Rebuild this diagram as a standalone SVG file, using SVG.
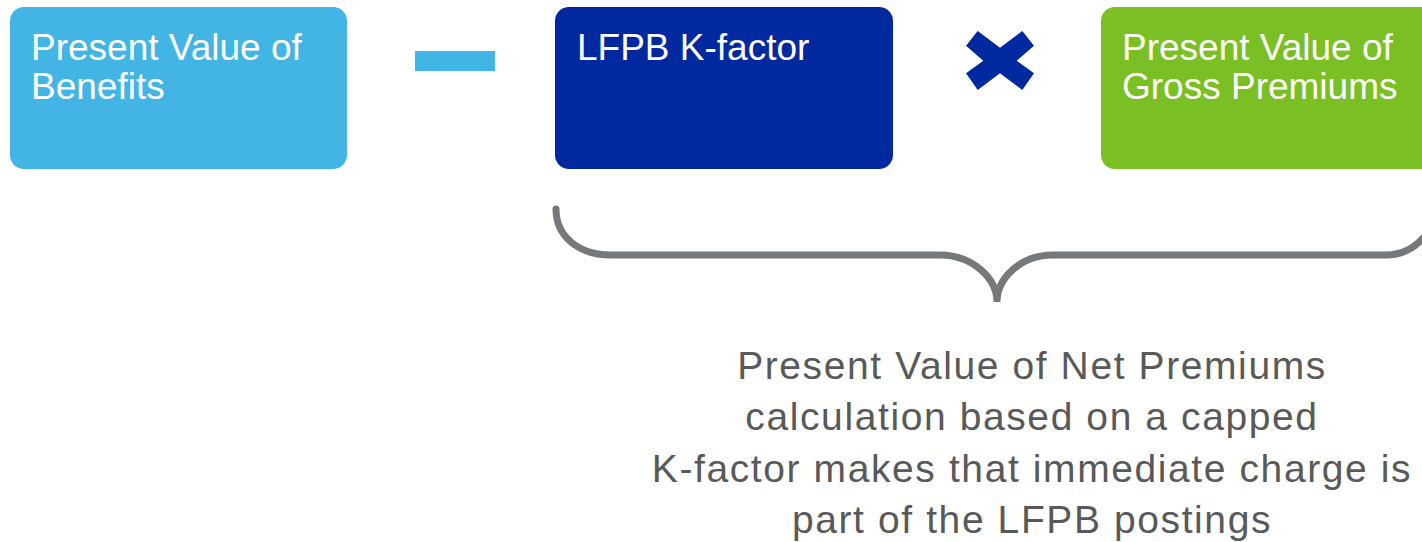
<svg xmlns="http://www.w3.org/2000/svg" width="1422" height="542" viewBox="0 0 1422 542">
<style>
.box-text{font-family:"Liberation Sans",Arial,sans-serif;font-size:37px;fill:#ffffff}
.note{font-family:"Liberation Sans",Arial,sans-serif;font-size:39px;fill:#595959;letter-spacing:1.6px;text-anchor:middle}
</style>
<rect width="1422" height="542" fill="#ffffff"/>
<g id="node-pv-benefits">
<rect x="10" y="7" width="337" height="162" rx="14" fill="#43B5E5"/>
<text class="box-text" x="31" y="60">Present Value of</text>
<text class="box-text" x="31" y="99">Benefits</text>
</g>
<g id="op-minus">
<rect x="415" y="51" width="80" height="20" fill="#43B5E5"/>
</g>
<g id="node-kfactor">
<rect x="555" y="7" width="338" height="162" rx="14" fill="#0029A0"/>
<text class="box-text" x="577" y="60">LFPB K-factor</text>
</g>
<g id="op-times">
<polygon points="977.7,31 1000,47.7 1022.3,31 1034,45.7 1016.7,60.7 1034,73.3 1022.3,90 1000,73.3 977.7,90 966,73.3 983.3,60.7 966,45.7" fill="#0029A0"/>
</g>
<g id="node-pv-gross">
<rect x="1101" y="7" width="345" height="162" rx="14" fill="#7ABF23"/>
<text class="box-text" x="1122" y="60">Present Value of</text>
<text class="box-text" x="1122" y="99">Gross Premiums</text>
</g>
<g id="connectors">
<path d="M556,209 C556,236 578,255 611,255 L940,255 C972,255 997,278 997,302 C997,278 1021,255 1053,255 L1386,255 C1404,255 1418,246 1428,232" fill="none" stroke="#76797C" stroke-width="7" stroke-linecap="round"/>
</g>
<g id="note">
<text class="note" x="1032" y="379">Present Value of Net Premiums</text>
<text class="note" x="1032" y="430">calculation based on a capped</text>
<text class="note" x="1032" y="482">K-factor makes that immediate charge is</text>
<text class="note" x="1032" y="533">part of the LFPB postings</text>
</g>
</svg>
